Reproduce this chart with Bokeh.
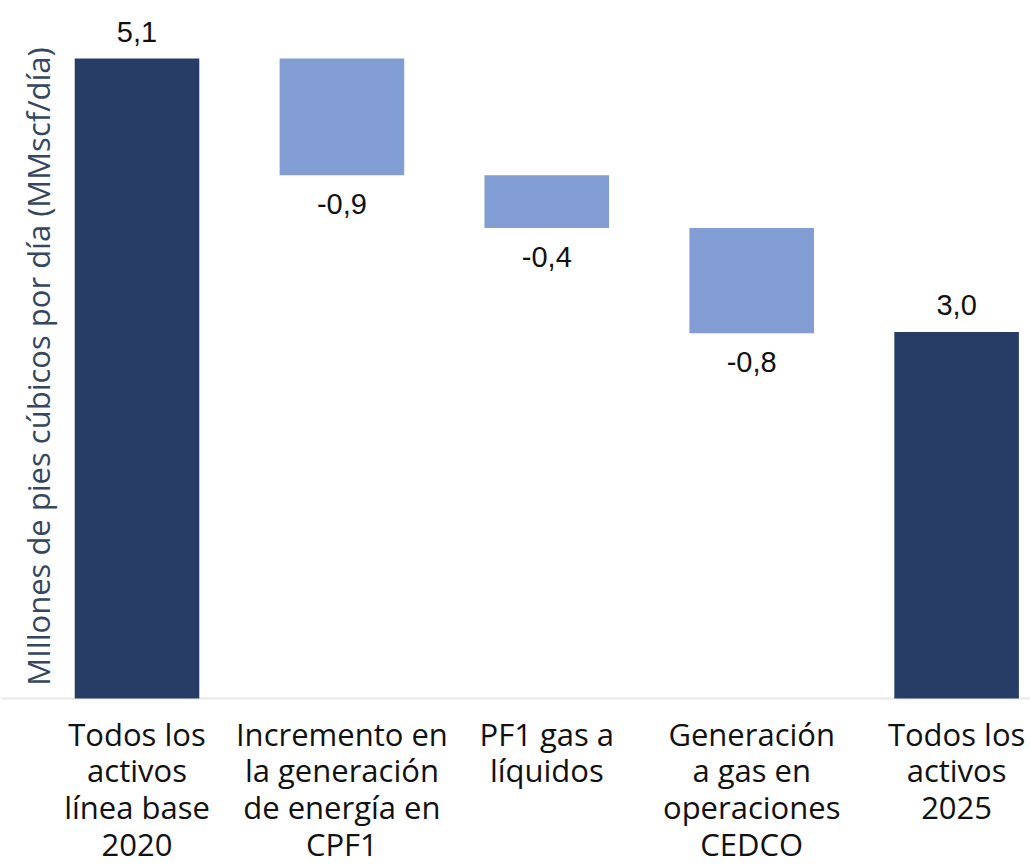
import math
from bokeh.plotting import figure
from bokeh.models import Range1d, ColumnDataSource, Span
from bokeh.core.properties import value
from bokeh.embed import file_html
from bokeh.resources import INLINE

categories = [
    "Todos los\nactivos\nlínea base\n2020",
    "Incremento en\nla generación\nde energía en\nCPF1",
    "PF1 gas a\nlíquidos",
    "Generación\na gas en\noperaciones\nCEDCO",
    "Todos los\nactivos\n2025",
]
values = [5.1, -0.93, -0.42, -0.84, 2.92]
kinds = ["total", "delta", "delta", "delta", "total"]
value_labels = ["5,1", "-0,9", "-0,4", "-0,8", "3,0"]
y_title = "MIllones de pies cúbicos por día (MMscf/día)"

DARK = "#273d66"
LIGHT = "#829dd3"

xs, tops, bottoms, colors = [], [], [], []
ly, loff = [], []
running = 0.0
for i, (v, k) in enumerate(zip(values, kinds)):
    xs.append(i)
    if k == "total":
        b, t = 0.0, v
        running = v
        colors.append(DARK)
    else:
        t = running
        b = running + v
        running = b
        colors.append(LIGHT)
    tops.append(t)
    bottoms.append(b)
    if k == "total" or v >= 0:
        ly.append(t)
        loff.append(-27)
    else:
        ly.append(b)
        loff.append(29)

src = ColumnDataSource(dict(x=xs, top=tops, bottom=bottoms, color=colors))
lsrc = ColumnDataSource(dict(x=xs, y=ly, off=loff, text=value_labels))
csrc = ColumnDataSource(dict(x=xs, y=[0] * len(xs), text=categories))

W, H = 1030, 865
px_per_cat = 204.9
first_center = 136.5
x0 = -first_center / px_per_cat
x1 = x0 + W / px_per_cat

px_per_unit = 125.49
base_px = 698
y1 = base_px / px_per_unit
y0 = -(H - base_px) / px_per_unit

p = figure(
    width=W, height=H,
    x_range=Range1d(x0, x1), y_range=Range1d(y0, y1),
    output_backend="svg", toolbar_location=None,
    min_border=0,
)
p.outline_line_color = None
p.axis.visible = False
p.xgrid.grid_line_color = None
p.ygrid.grid_line_color = None
p.background_fill_color = "white"
p.border_fill_color = "white"

p.vbar(x="x", top="top", bottom="bottom", width=0.608, color="color",
       line_color=None, source=src)

p.add_layout(Span(location=0, dimension="width", line_color="#e8e8e8",
                  line_width=2, level="underlay"))

p.text(x="x", y="y", text="text", y_offset="off", source=lsrc,
       text_align="center", text_baseline="alphabetic",
       text_font=value("Liberation Sans"), text_font_size="29px",
       text_color="#111111")

p.text(x="x", y="y", text="text", y_offset=14, source=csrc,
       text_align="center", text_baseline="top",
       text_font=value("Open Sans"), text_font_size="31px",
       text_line_height=0.88, text_color="#111111")

p.text(x=[(37 - first_center) / px_per_cat], y=[(base_px - 366) / px_per_unit],
       text=[y_title], angle=math.pi / 2,
       text_align="center", text_baseline="middle",
       text_font=value("Open Sans"), text_font_size="31px",
       text_color="#34475f")

open("out.html", "w").write(file_html(p, INLINE))
